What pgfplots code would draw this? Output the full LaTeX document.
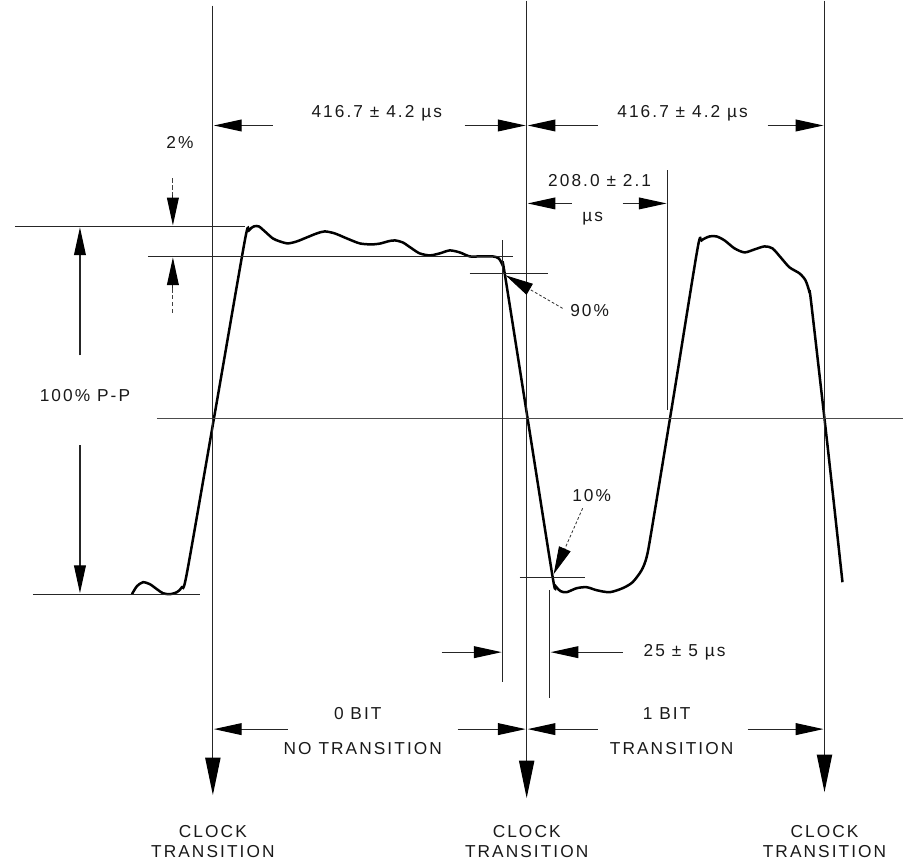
\documentclass[border=0pt]{standalone}
\usepackage{pgfplots}
\pgfplotsset{compat=1.18}
\usepackage{fontspec}
\setmainfont{Liberation Sans}[LetterSpace=12]
\usetikzlibrary{arrows.meta}
\begin{document}
\begin{tikzpicture}[
  thin line/.style={line width=0.8bp, black!85},
  dim/.style={line width=0.8bp, black!85, -{Triangle[length=20bp,width=8.5bp,color=black]}},
  lead/.style={line width=0.6bp, black!80, dash pattern=on 2bp off 1.5bp, -{Triangle[length=20bp,width=9bp,color=black]}},
  clk/.style={line width=0.8bp, black!85, -{Triangle[length=27bp,width=11bp,color=black]}},
  lbl/.style={font=\fontsize{12.5}{14}\selectfont, text=black!90, inner sep=0pt}
]
\begin{axis}[hide axis, scale only axis, x=0.72bp, y=0.72bp,
  xmin=0, xmax=904, ymin=0, ymax=867, y dir=reverse, clip=false]

% picture frame (invisible), keeps the reference's extent
\path (0,0) rectangle (904,867);

% waveform
\addplot[line width=1.8bp, black, smooth, tension=0.45] coordinates {
(132,594) (137,586) (143,582) (150,584) (157,589) (163,593) (170,594) (177,592) (182,587) (187,573)
(216,407) (245,240) (249,230) (254,226) (259,226) (265,231) (273,238) (280,241) (288,243) (297,241)
(307,237) (317,233) (325,231) (335,233) (347,238) (360,243) (372,244) (381,243) (388,241) (395,240)
(403,242) (412,248) (420,253) (430,255) (440,253) (450,250) (460,252) (470,256) (480,256) (493,256)
(499,258) (503,265) (505,273) (529,425) (553,577) (556,586) (561,591) (567,592) (577,588) (587,587)
(597,590) (610,592) (623,588) (633,582) (642,570) (647,557) (652,530) (675,390) (698,248) (702,240)
(710,236) (717,236) (725,240) (735,248) (745,252) (755,249) (765,246) (773,248) (782,258) (790,267)
(800,273) (806,280) (810,292) (812,305) (828,445) (843,582)
};

% reference levels
\draw[thin line] (15,226) -- (245,226);
\draw[thin line] (148,256) -- (513,256);
\draw[thin line] (33,594) -- (200,594);
\draw[thin line, black!70] (157,418) -- (904,418);

% clock lines
\draw[clk] (213,5) -- (213,795);
\draw[clk] (527,0) -- (527,798);
\draw[clk] (825,0) -- (825,792);

% 416.7 dimensions
\draw[dim] (273,125) -- (214,125);
\draw[dim] (465,125) -- (526,125);
\draw[dim] (598,125) -- (528,125);
\draw[dim] (768,125) -- (824,125);
\node[lbl] at (377,113) {416.7 ± 4.2 µs};
\node[lbl] at (683,113) {416.7 ± 4.2 µs};

% 208.0 dimension
\draw[thin line] (668,170) -- (668,410);
\draw[dim] (572,203) -- (528,203);
\draw[dim] (623,203) -- (667,203);
\node[lbl] at (600,180) {208.0 ± 2.1};
\node[lbl] at (593,218) {µs};

% 2% arrows
\draw[line width=0.6bp, black!75, dash pattern=on 3bp off 2bp] (173,178) -- (173,197);
\draw[dim] (173,195) -- (173,225);
\draw[dim] (173,290) -- (173,257);
\draw[line width=0.6bp, black!75, dash pattern=on 3bp off 2bp] (173,288) -- (173,315);
\node[lbl] at (180,142) {2\%};

% 100% P-P
\draw[dim] (80,355) -- (80,227);
\draw[dim] (80,445) -- (80,593);
\node[lbl] at (85,395) {100\% P-P};

% 90% crosshair and leader
\draw[thin line] (470,273) -- (548,273);
\draw[thin line] (503,240) -- (503,682);
\draw[lead] (563,308) -- (506,275);
\node[lbl] at (590,310) {90\%};

% 10% crosshair and leader
\draw[thin line] (520,577) -- (585,577);
\draw[thin line] (550,590) -- (550,698);
\draw[lead] (583,508) -- (554,574);
\node[lbl] at (592,495) {10\%};

% 25 us
\draw[dim] (442,652) -- (502,652);
\draw[dim] (623,652) -- (551,652);
\node[lbl] at (685,652) {25 ± 5 µs};

% bit dimensions
\draw[dim] (288,729) -- (214,729);
\draw[dim] (458,729) -- (526,729);
\draw[dim] (598,729) -- (528,729);
\draw[dim] (748,729) -- (824,729);
\node[lbl] at (358,713) {0 BIT};
\node[lbl] at (363,748) {NO TRANSITION};
\node[lbl] at (667,713) {1 BIT};
\node[lbl] at (672,748) {TRANSITION};

% clock labels
\node[lbl] at (213,831) {CLOCK};
\node[lbl] at (213,852) {TRANSITION};
\node[lbl] at (527,831) {CLOCK};
\node[lbl] at (527,852) {TRANSITION};
\node[lbl] at (825,831) {CLOCK};
\node[lbl] at (825,852) {TRANSITION};
\end{axis}
\end{tikzpicture}
\end{document}
